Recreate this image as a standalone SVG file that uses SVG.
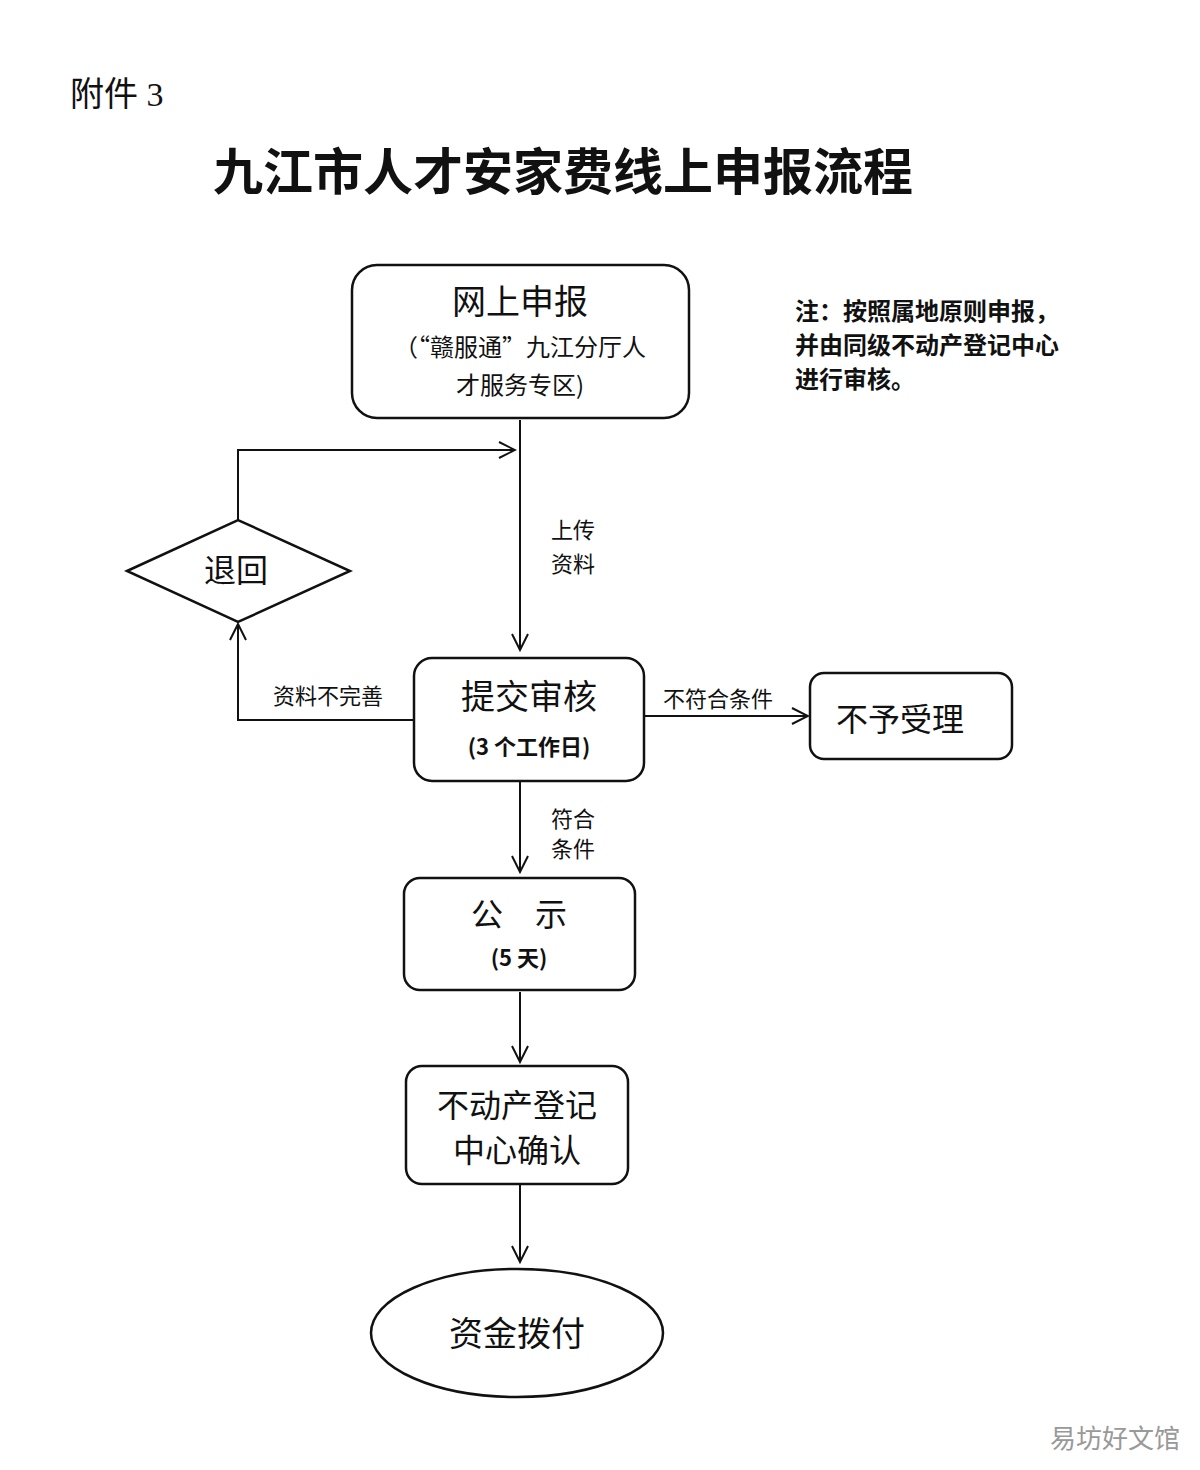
<svg xmlns="http://www.w3.org/2000/svg" width="1200" height="1470" viewBox="0 0 1200 1470">
<style>
.b{fill:#fff;stroke:#111;stroke-width:2.5}
.t{font-family:"Noto Sans CJK SC",sans-serif;fill:#111;text-anchor:middle}
.s{font-family:"Liberation Serif","Noto Sans CJK SC",serif;fill:#111}
.c{fill:none;stroke:#111;stroke-width:2}
</style>
<defs><marker id="a" viewBox="0 0 20 20" refX="18" refY="10" markerWidth="20" markerHeight="20" markerUnits="userSpaceOnUse" orient="auto"><path d="M2,2 L18,10 L2,18" fill="none" stroke="#111" stroke-width="2"/></marker></defs>
<rect width="1200" height="1470" fill="#fff"/>
<text class="s" x="70" y="106" font-size="34">附件 3</text>
<text class="s" x="563" y="190" font-size="50" font-weight="bold" text-anchor="middle">九江市人才安家费线上申报流程</text>
<g id="note" class="s" font-size="24" font-weight="bold"><text x="795" y="320">注：按照属地原则申报，</text><text x="795" y="354">并由同级不动产登记中心</text><text x="795" y="388">进行审核。</text></g>
<g id="connectors">
<path class="c" d="M520,420 V650" marker-end="url(#a)"/>
<path class="c" d="M238,520 V450 H515" marker-end="url(#a)"/>
<path class="c" d="M414,720 H238 V624" marker-end="url(#a)"/>
<path class="c" d="M644,716 H808" marker-end="url(#a)"/>
<path class="c" d="M520,781 V872" marker-end="url(#a)"/>
<path class="c" d="M520,992 V1062" marker-end="url(#a)"/>
<path class="c" d="M520,1184 V1262" marker-end="url(#a)"/>
<g class="t" font-size="22"><text x="573" y="538">上传</text><text x="573" y="572">资料</text><text x="328" y="704">资料不完善</text><text x="718" y="707">不符合条件</text><text x="573" y="827">符合</text><text x="573" y="857">条件</text></g>
</g>
<g id="n1"><rect class="b" x="352" y="265" width="337" height="153" rx="25"/><text class="t" x="520" y="314" font-size="34">网上申报</text><text class="t" x="520" y="356" font-size="24">（“赣服通”九江分厅人</text><text class="t" x="520" y="394" font-size="24">才服务专区)</text></g>
<g id="n2"><path class="b" d="M127,571 L238,520 L350,571 L238,622 Z"/><text class="t" x="236" y="582" font-size="32">退回</text></g>
<g id="n3"><rect class="b" x="414" y="658" width="230" height="123" rx="18"/><text class="t" x="529" y="709" font-size="34">提交审核</text><text class="t" x="529" y="755" font-size="22" font-weight="bold">(3 个工作日)</text></g>
<g id="n4"><rect class="b" x="810" y="673" width="202" height="86" rx="14"/><text class="t" x="900" y="731" font-size="32">不予受理</text></g>
<g id="n5"><rect class="b" x="404" y="878" width="231" height="112" rx="16"/><text class="t" x="519" y="926" font-size="32">公　示</text><text class="t" x="519" y="966" font-size="22" font-weight="bold">(5 天)</text></g>
<g id="n6"><rect class="b" x="406" y="1066" width="222" height="118" rx="16"/><text class="t" x="517" y="1117" font-size="32">不动产登记</text><text class="t" x="517" y="1162" font-size="32">中心确认</text></g>
<g id="n7"><ellipse class="b" cx="517" cy="1333" rx="146" ry="64"/><text class="t" x="517" y="1346" font-size="34">资金拨付</text></g>
<text class="t" x="1115" y="1448" font-size="26" style="fill:#999">易坊好文馆</text>
</svg>
